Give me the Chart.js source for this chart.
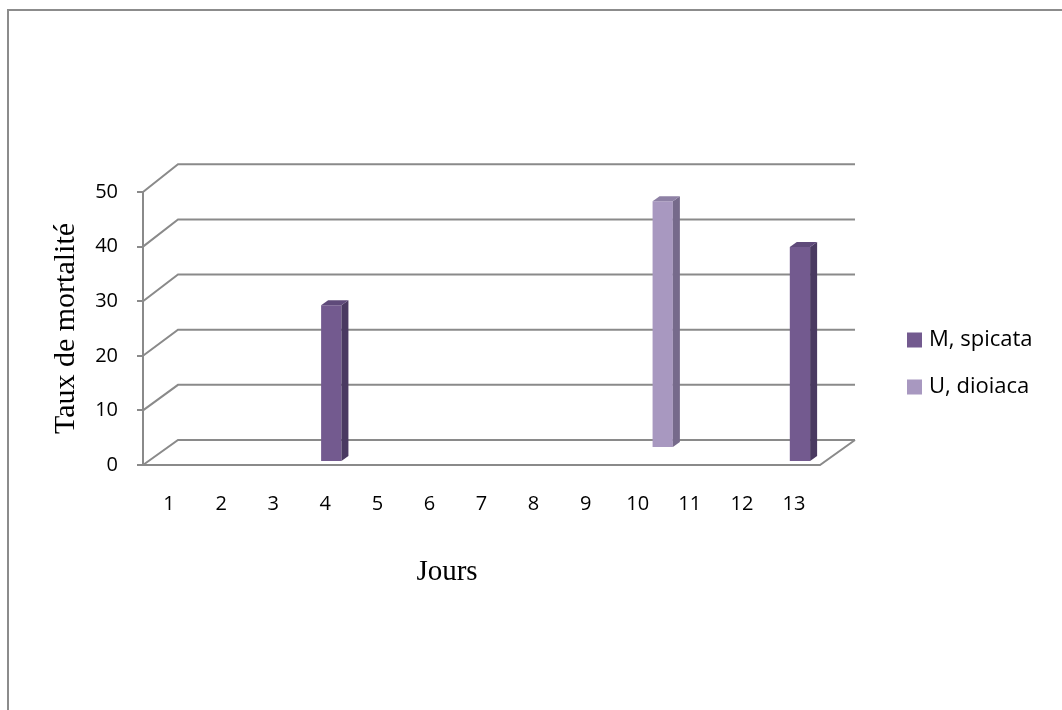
<!DOCTYPE html>
<html lang="fr">
<head>
<meta charset="utf-8">
<title>Taux de mortalité par jour</title>
<script src="https://cdn.jsdelivr.net/npm/chart.js@4.4.1/dist/chart.umd.min.js"></script>
<style>
  html, body { margin: 0; padding: 0; background: #ffffff; }
  #wrap { position: relative; width: 1062px; height: 710px; overflow: hidden; }
  #frame { position: absolute; left: 7px; top: 9px; right: -4px; bottom: -4px;
           border-top: 2px solid #8c8c8c; border-left: 2px solid #8c8c8c; }
  #chart { position: absolute; left: 0; top: 0; }
</style>
</head>
<body>
<div id="wrap">
  <div id="frame"></div>
  <canvas id="chart" width="1062" height="710"></canvas>
</div>
<script>
// Days on the horizontal axis
const days = ['1', '2', '3', '4', '5', '6', '7', '8', '9', '10', '11', '12', '13'];

// Mortality rate (%) per day for each plant extract
const mSpicata = [null, null, null, 28.7, null, null, null, null, null, null, null, null, 39.4];
const uDioiaca = [null, null, null, null, null, null, null, null, null, 45.2, null, null, null];

const seriesNames = ['M, spicata', 'U, dioiaca'];

// Value axis ticks
const yTicks = [0, 10, 20, 30, 40, 50];

// Axis titles
const xTitle = 'Jours';
const yTitle = 'Taux de mortalité';

// ---- styling of the pseudo-3D box ----
const GRID = '#8a8a8a';
const WALL_DX = 35;          // depth of the back wall, horizontal
const WALL_DY = -25;         // depth of the back wall, vertical
const WALL_GROW = 0.01;      // slight perspective growth of the back wall
const ROW_SHIFT = [{ dx: 6, dy: -3 }, { dx: 25, dy: -17 }];   // series rows along depth
const BAR_DEPTH = { dx: 7, dy: -5 };
const FACE = [
  { front: '#735a8f', side: '#4a3a61', top: '#5f4a7a' },
  { front: '#a898c0', side: '#766a8b', top: '#8e81a5' }
];

function backY(y, v) {
  const y0 = y.getPixelForValue(0);
  const yf = y.getPixelForValue(v);
  return y0 + WALL_DY - (y0 - yf) * (1 + WALL_GROW);
}

const boxPlugin = {
  id: 'box3d',
  beforeDatasetsDraw(chart) {
    const { ctx, chartArea: a, scales: { y } } = chart;
    ctx.save();
    ctx.strokeStyle = GRID;
    ctx.lineWidth = 2;
    ctx.lineCap = 'butt';
    // back wall grid lines and left wall diagonals
    yTicks.forEach(v => {
      const yf = y.getPixelForValue(v);
      const yb = backY(y, v);
      ctx.beginPath();
      ctx.moveTo(a.left, yf);
      ctx.lineTo(a.left + WALL_DX, yb);
      ctx.lineTo(a.right + WALL_DX, yb);
      ctx.stroke();
    });
    // floor: front edge and right edge
    const y0 = y.getPixelForValue(0);
    ctx.beginPath();
    ctx.moveTo(a.left, y0);
    ctx.lineTo(a.right, y0);
    ctx.lineTo(a.right + WALL_DX, backY(y, 0));
    ctx.stroke();
    ctx.restore();
  },
  beforeDatasetDraw(chart, args) {
    const s = ROW_SHIFT[args.index];
    chart.ctx.save();
    chart.ctx.translate(s.dx, s.dy);
  },
  afterDatasetDraw(chart, args) {
    const ctx = chart.ctx;
    const face = FACE[args.index];
    const data = chart.data.datasets[args.index].data;
    args.meta.data.forEach((bar, i) => {
      if (data[i] === null || data[i] === undefined) return;
      const p = bar.getProps(['x', 'y', 'base', 'width'], true);
      const l = p.x - p.width / 2, r = p.x + p.width / 2;
      const dx = BAR_DEPTH.dx, dy = BAR_DEPTH.dy;
      // side face
      ctx.fillStyle = face.side;
      ctx.beginPath();
      ctx.moveTo(r, p.y);
      ctx.lineTo(r + dx, p.y + dy);
      ctx.lineTo(r + dx, p.base + dy);
      ctx.lineTo(r, p.base);
      ctx.closePath();
      ctx.fill();
      // top face
      ctx.fillStyle = face.top;
      ctx.beginPath();
      ctx.moveTo(l, p.y);
      ctx.lineTo(r, p.y);
      ctx.lineTo(r + dx, p.y + dy);
      ctx.lineTo(l + dx, p.y + dy);
      ctx.closePath();
      ctx.fill();
    });
    ctx.restore();
  },
  afterDraw(chart) {
    const ctx = chart.ctx;
    ctx.save();
    // horizontal axis title, set left of the plot centre
    ctx.font = '29px "Liberation Serif"';
    ctx.fillStyle = '#000000';
    ctx.textAlign = 'center';
    ctx.textBaseline = 'middle';
    ctx.fillText(xTitle, 447, 572);
    // legend on the right
    ctx.font = '22px "Open Sans"';
    ctx.textAlign = 'left';
    chart.data.datasets.forEach((ds, i) => {
      const cy = 340 + i * 47;
      ctx.fillStyle = FACE[i].front;
      ctx.fillRect(907, cy - 7.5, 15, 15);
      ctx.fillStyle = '#000000';
      ctx.fillText(ds.label, 929, cy);
    });
    ctx.restore();
  }
};

new Chart(document.getElementById('chart'), {
  type: 'bar',
  data: {
    labels: days,
    datasets: [
      { label: seriesNames[0], data: mSpicata, backgroundColor: FACE[0].front, borderWidth: 0 },
      { label: seriesNames[1], data: uDioiaca, backgroundColor: FACE[1].front, borderWidth: 0 }
    ]
  },
  options: {
    responsive: false,
    animation: false,
    devicePixelRatio: 1,
    datasets: { bar: { grouped: false, categoryPercentage: 1, barPercentage: 0.39 } },
    layout: { padding: { left: 44, right: 242, top: 192, bottom: 117 } },
    plugins: { legend: { display: false }, tooltip: { enabled: false } },
    scales: {
      x: {
        offset: true,
        grid: { display: false, drawTicks: false },
        border: { display: false },
        ticks: { color: '#000', font: { family: 'Open Sans', size: 20 }, padding: 27, maxRotation: 0 },
        title: { display: false },
        afterFit(s) { s.height = 128; }
      },
      y: {
        min: 0, max: 50,
        afterBuildTicks(s) { s.ticks = yTicks.map(v => ({ value: v })); },
        grid: { display: true, drawOnChartArea: false, drawTicks: true, tickLength: 6,
                color: GRID, lineWidth: 2 },
        border: { display: true, color: GRID, width: 2 },
        ticks: { color: '#000', font: { family: 'Open Sans', size: 20 }, padding: 19 },
        title: { display: true, text: yTitle, color: '#000',
                 font: { family: 'Liberation Serif', size: 30 }, padding: { top: 4, bottom: 4 } },
        afterFit(s) { s.width = 99; }
      }
    }
  },
  plugins: [boxPlugin]
});
</script>
</body>
</html>
